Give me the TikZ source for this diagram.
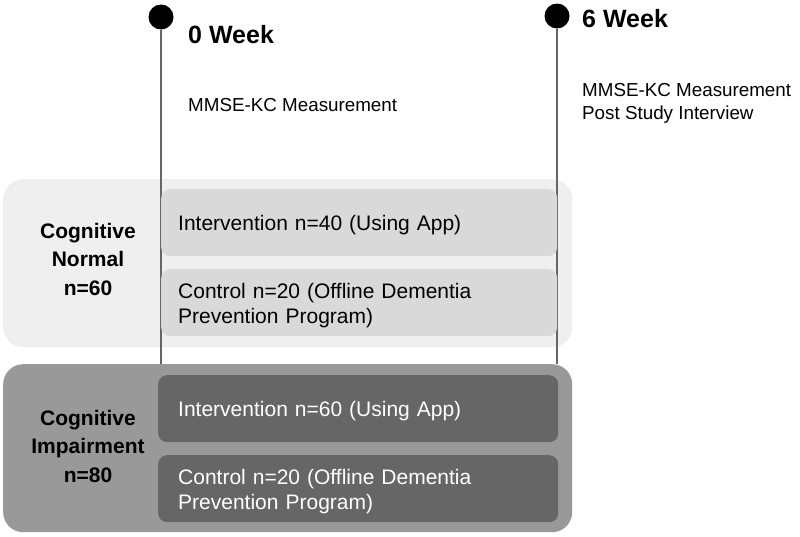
\documentclass[tikz,border=0pt]{standalone}
\usepackage{fontspec}
\setmainfont{Liberation Sans}
\definecolor{groupA}{HTML}{EFEFEF}
\definecolor{armA}{HTML}{D9D9D9}
\definecolor{groupB}{HTML}{999999}
\definecolor{armB}{HTML}{666666}
\definecolor{stem}{HTML}{666666}
\begin{document}
\begin{tikzpicture}[x=1pt, y=-1pt,
    group/.style={rounded corners=20pt, minimum width=569pt, minimum height=168pt, anchor=north west, inner sep=0pt},
    arm/.style={rounded corners=9pt, anchor=north west, align=left, inner ysep=0pt, text depth=0pt, font=\fontsize{21}{25}\selectfont},
    armA/.style={arm, fill=armA, text width=362pt, inner xsep=17pt, minimum height=67pt},
    armB/.style={arm, fill=armB, text=white, text width=360pt, inner xsep=20pt, minimum height=67pt},
    twoline/.style={text depth=24pt},
    cohort/.style={align=center, inner sep=0pt, text depth=0pt, font=\fontsize{21}{28.5}\selectfont\bfseries},
    milestone/.style={circle, fill=black, minimum size=25pt, inner sep=0pt},
    week/.style={anchor=base west, inner sep=0pt, font=\fontsize{25}{29}\selectfont\bfseries},
    task/.style={anchor=north west, align=left, inner sep=0pt, font=\fontsize{18.8}{23.5}\selectfont}]
  \useasboundingbox[fill=white] (0,0) rectangle (800,536);
  \node[group, fill=groupA] (normal) at (3,179) {};
  \node[milestone] (start) at (161,17) {};
  \node[milestone] (end) at (557,16) {};
  \node[coordinate] (startfoot) at (161,364) {};
  \node[coordinate] (endfoot) at (557,364) {};
  \draw[stem, line width=1.8pt] (start) -- (startfoot);
  \draw[stem, line width=1.8pt] (end) -- (endfoot);
  \node[armA] (normalApp) at (161,189) {Intervention n=40 (Using App)};
  \node[armA, twoline] (normalCtrl) at (161,269) {Control n=20 (Offline Dementia\\Prevention Program)};
  \node[group, fill=groupB] (impair) at (3,364) {};
  \node[armB] (impairApp) at (158,375) {Intervention n=60 (Using App)};
  \node[armB, twoline] (impairCtrl) at (158,455) {Control n=20 (Offline Dementia\\Prevention Program)};
  \node[cohort] (normalLabel) at (88,259) {Cognitive\\Normal\\n=60};
  \node[cohort] (impairLabel) at (88,446) {Cognitive\\Impairment\\n=80};
  \node[week] (startWeek) at (188,43) {0 Week};
  \node[week] (endWeek) at (582,27) {6 Week};
  \node[task] (startTask) at (188,98) {MMSE-KC Measurement};
  \node[task] (endTask) at (582,83) {MMSE-KC Measurement\\Post Study Interview};
\end{tikzpicture}
\end{document}
